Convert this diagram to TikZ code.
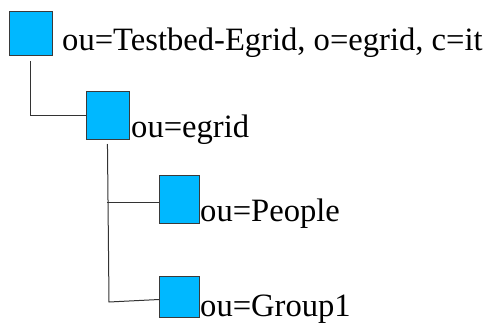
\documentclass[tikz,border=0pt]{standalone}
\usepackage{fontspec}
\setmainfont{Liberation Serif}
\newfontfamily\labelserif{Liberation Serif}
\usetikzlibrary{calc}
\definecolor{boxblue}{HTML}{00B8FF}
\definecolor{edgegray}{HTML}{3A3A3A}
\begin{document}
\begin{tikzpicture}[x=1pt,y=-1pt,
  entry/.style={draw=edgegray, fill=boxblue, line width=1pt, inner sep=0pt, anchor=north west},
  lbl/.style={inner sep=0pt, anchor=base west, font=\labelserif\fontsize{32.6}{38}\selectfont},
  link/.style={draw=black!80, line width=1pt}]
\useasboundingbox (0,0) rectangle (487,324);
\node[entry, minimum width=42.5pt, minimum height=44pt] (b1) at (9,11) {};
\node[entry, minimum width=43.5pt, minimum height=48pt] (b2) at (85.7,91) {};
\node[entry, minimum width=40.3pt, minimum height=48pt] (b3) at (159,175.3) {};
\node[entry, minimum width=40.3pt, minimum height=41.6pt] (b4) at (159,275.7) {};
\node[lbl] (t1) at (62,50) {ou=Testbed-Egrid, o=egrid, c=it};
\node[lbl] (t2) at (131,137) {ou=egrid};
\node[lbl] (t3) at (200,221) {ou=People};
\node[lbl] (t4) at (200,316.5) {ou=Group1};
\coordinate (c1) at ($(b1.south)+(0,5)$);
\coordinate (c2) at ($(b2.south)+(-0.5,4)$);
\coordinate (c3) at (109,302);
\draw[link] (c1) |- (b2.west);
\draw[link] (c2) -- (c3) -- ($(b4.west)+(0,2.5)$);
\draw[link] (c2 |- b3.west) ++(0,2.4) coordinate (c4) -- (c4 -| b3.west);
\end{tikzpicture}
\end{document}
